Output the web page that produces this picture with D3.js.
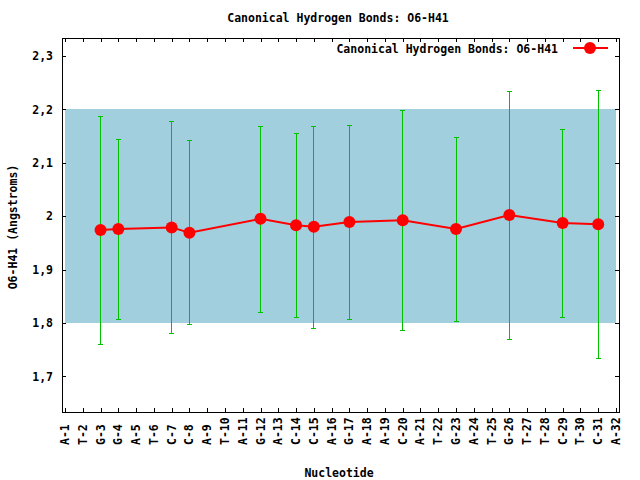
<!DOCTYPE html>
<html><head><meta charset="utf-8">
<script src="https://cdn.jsdelivr.net/npm/d3@7"></script>
<style>body{margin:0;background:#fff}text{font-family:"DejaVu Sans Mono",monospace;font-weight:bold;font-size:11.5px}</style>
</head><body>
<script>
const nucleotides = ["A-1","T-2","G-3","G-4","A-5","T-6","C-7","C-8","A-9","T-10","A-11","G-12","A-13","C-14","C-15","A-16","G-17","A-18","A-19","C-20","A-21","T-22","G-23","A-24","T-25","G-26","T-27","T-28","C-29","T-30","C-31","A-32"];
const positions = [3,4,7,8,12,14,15,17,20,23,26,29,31];
const means = [1.974,1.976,1.979,1.969,1.995,1.983,1.980,1.989,1.9925,1.976,2.002,1.987,1.985];
const upper = [2.186,2.143,2.177,2.141,2.167,2.155,2.167,2.170,2.197,2.147,2.233,2.162,2.235];
const lower = [1.759,1.806,1.780,1.797,1.819,1.810,1.789,1.806,1.785,1.802,1.769,1.810,1.734];
const yTicks = [1.7,1.8,1.9,2.0,2.1,2.2,2.3];
const bandRange = [1.8,2.2];
const title = "Canonical Hydrogen Bonds: O6-H41";

const W=640,H=480, L=62,R=619,T=38.3,B=412.3;
const svg=d3.select("body").append("svg").attr("width",W).attr("height",H);
const x=d3.scaleLinear().domain([0.83,32.17]).range([L,R]);
const y=d3.scaleLinear().domain([1.6327,2.3331]).range([B,T]);

// band
svg.append("rect").attr("x",x(1)).attr("width",x(32)-x(1))
  .attr("y",y(bandRange[1])).attr("height",y(bandRange[0])-y(bandRange[1])).attr("fill","#a2cfde")
  .attr("shape-rendering","crispEdges");

const fmt=v=>(Math.abs(v-Math.round(v))<1e-9?String(Math.round(v)):v.toFixed(1).replace(".",","));
const yl=svg.append("g").attr("transform",`translate(${L},0)`).call(d3.axisLeft(y).tickValues(yTicks).tickSize(-4).tickPadding(9).tickFormat(fmt));
const yr=svg.append("g").attr("transform",`translate(${R},0)`).call(d3.axisRight(y).tickValues(yTicks).tickSize(-4).tickFormat(""));
const xb=svg.append("g").attr("transform",`translate(0,${B})`).call(d3.axisBottom(x).tickValues(d3.range(1,33)).tickSize(-4).tickFormat(""));
const xt=svg.append("g").attr("transform",`translate(0,${T})`).call(d3.axisTop(x).tickValues(d3.range(1,33)).tickSize(-4).tickFormat(""));
[yl,yr,xb,xt].forEach(g=>{g.select(".domain").remove();g.selectAll("line").attr("stroke","#000").attr("shape-rendering","crispEdges");g.selectAll("text").attr("font-family",null).attr("font-size",null).attr("fill","#000");});
svg.append("rect").attr("x",L).attr("y",T).attr("width",R-L).attr("height",B-T).attr("fill","none").attr("stroke","#000").attr("stroke-width",1).attr("shape-rendering","crispEdges");

svg.append("g").selectAll("text").data(nucleotides).join("text")
  .attr("transform",(d,i)=>`translate(${x(i+1)+4},445) rotate(-90)`)
  .attr("text-anchor","start").text(d=>d);

const eb=svg.append("g").attr("stroke","#00c000").attr("stroke-width",1).attr("shape-rendering","crispEdges");
positions.forEach((p,i)=>{
  const cx=x(p);
  eb.append("line").attr("x1",cx).attr("x2",cx).attr("y1",y(upper[i])).attr("y2",y(lower[i]));
  eb.append("line").attr("x1",cx-2.5).attr("x2",cx+2.5).attr("y1",y(upper[i])).attr("y2",y(upper[i]));
  eb.append("line").attr("x1",cx-2.5).attr("x2",cx+2.5).attr("y1",y(lower[i])).attr("y2",y(lower[i]));
});
const pts=positions.map((p,i)=>[p,means[i]]);
svg.append("path").datum(pts).attr("fill","none").attr("stroke","#ff0000").attr("stroke-width",2)
  .attr("d",d3.line().x(d=>x(d[0])).y(d=>y(d[1])));
svg.append("g").selectAll("circle").data(pts).join("circle")
  .attr("cx",d=>x(d[0])).attr("cy",d=>y(d[1])).attr("r",6).attr("fill","#ff0000");

svg.append("text").attr("x",338).attr("y",22).attr("text-anchor","middle").text(title);
svg.append("text").attr("x",339).attr("y",477).attr("text-anchor","middle").text("Nucleotide");
svg.append("text").attr("transform","translate(17,227) rotate(-90)").attr("text-anchor","middle").text("O6-H41 (Angstroms)");
svg.append("text").attr("x",558).attr("y",53).attr("text-anchor","end").text(title);
svg.append("line").attr("x1",573).attr("x2",608).attr("y1",48).attr("y2",48).attr("stroke","#ff0000").attr("stroke-width",2);
svg.append("circle").attr("cx",590).attr("cy",48).attr("r",6).attr("fill","#ff0000");
</script>
</body></html>
